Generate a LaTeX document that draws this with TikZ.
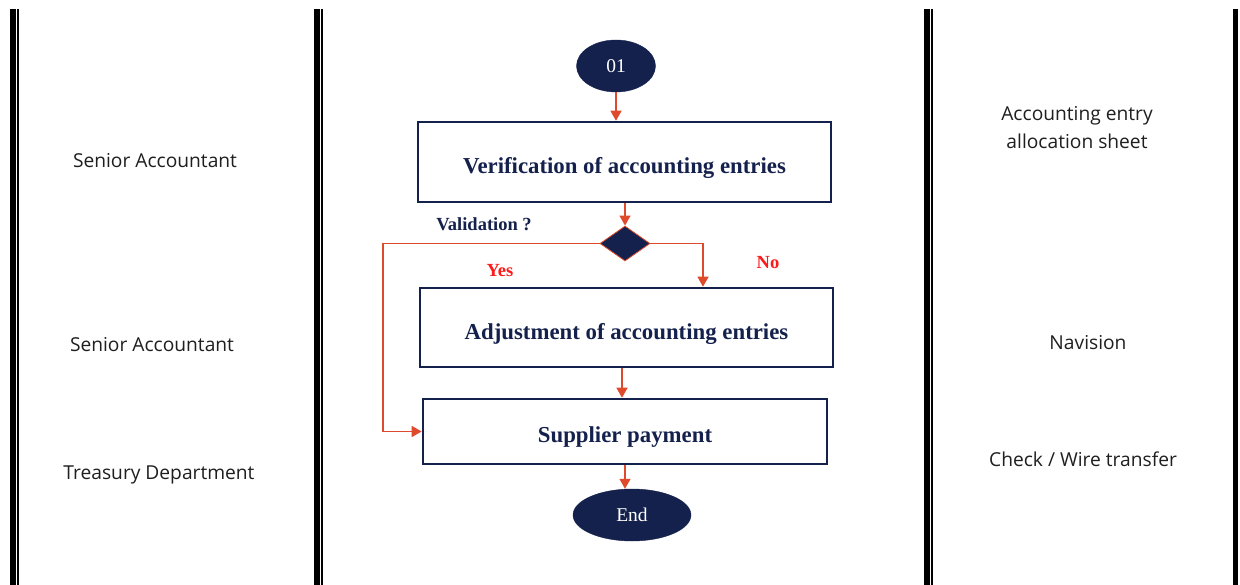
\documentclass[tikz,border=0pt]{standalone}
\usepackage{fontspec}
\setmainfont{Liberation Serif}
\newfontfamily\labelfont{Open Sans}
\usetikzlibrary{shapes.geometric,arrows.meta}
\definecolor{navy}{HTML}{15214D}
\definecolor{flow}{HTML}{E04A2C}
\definecolor{answer}{HTML}{FF1A1A}
\begin{document}
\begin{tikzpicture}[x=1pt,y=-1pt,
  stepbox/.style={draw=navy,line width=2.6pt,fill=white,rectangle,inner sep=0pt},
  steptext/.style={font=\fontsize{22.8}{24}\selectfont\bfseries,text=navy},
  oval/.style={ellipse,fill=navy,draw=navy,inner sep=0pt,text=white,
    font=\fontsize{19.5}{21}\selectfont},
  decision/.style={diamond,fill=navy,draw=flow,line width=0.8pt,inner sep=0pt,aspect=1.43},
  arr/.style={draw=flow,line width=1.3pt,-{Triangle[length=10pt,width=11pt]}},
  side/.style={font=\labelfont\fontsize{19.2}{28}\selectfont,text=black!88,align=center},
  tag/.style={font=\fontsize{18.5}{20}\selectfont\bfseries},
  thick rule/.style={line width=6pt,draw=black},
  thin rule/.style={line width=2pt,draw=black}
]
\useasboundingbox (0,0) rectangle (1240,585);
\fill[white] (0,0) rectangle (1240,585);

% column rules
\draw[thick rule] (13,9) -- (13,585);
\draw[thin rule] (18,9) -- (18,585);
\draw[thick rule] (317,9) -- (317,585);
\draw[thin rule] (322,9) -- (322,585);
\draw[thick rule] (926.5,9) -- (926.5,585);
\draw[thin rule] (931.5,9) -- (931.5,585);
\draw[line width=5pt] (1235,9) -- (1235,585);

% actors
\node[side] (actor1) at (155,161) {Senior Accountant};
\node[side] (actor2) at (152,345) {Senior Accountant};
\node[side] (actor3) at (159,475) {Treasury Department};

% documents and tools
\node[side] (doc1) at (1077,128) {Accounting entry\\allocation sheet};
\node[side] (doc2) at (1088,343) {Navision};
\node[side] (doc3) at (1083,459) {Check / Wire transfer};

% flow
\node[oval,minimum width=79pt,minimum height=52pt] (start) at (616,66) {\raisebox{-1.5pt}{01}};
\node[stepbox,minimum width=413pt,minimum height=80pt,
  label={[steptext,yshift=-6pt]center:Verification of accounting entries}] (verif) at (624.5,162) {};
\node[decision,minimum width=50pt,minimum height=35pt] (check) at (625,243.5) {};
\node[stepbox,minimum width=413pt,minimum height=79pt,
  label={[steptext,yshift=-6pt]center:Adjustment of accounting entries}] (adj) at (626.5,327.5) {};
\node[stepbox,minimum width=404pt,minimum height=65pt,
  label={[steptext,yshift=-6pt]center:Supplier payment}] (pay) at (625,431.5) {};
\node[oval,minimum width=118pt,minimum height=52pt] (stop) at (632,515) {End};

\node[tag,text=navy] (q) at (484,224) {Validation ?};
\node[tag,text=answer] (yes) at (500,271) {Yes};
\node[tag,text=answer] (no) at (768,263) {No};

\coordinate (lbend) at (383,243.5);
\coordinate (rbend) at (703,243.5);

\draw[arr] (start.south) -- (start.south |- verif.north);
\draw[arr] (check.north |- verif.south) -- (check.north);
\draw[arr] (check.west) -- (lbend) |- (pay.west);
\draw[arr] (check.east) -- (rbend) -- (rbend |- adj.north);
\draw[arr] ([xshift=-4.5pt]adj.south) -- ([xshift=-4.5pt]adj.south |- pay.north);
\draw[arr] (pay.south) -- (pay.south |- stop.north);
\end{tikzpicture}
\end{document}
